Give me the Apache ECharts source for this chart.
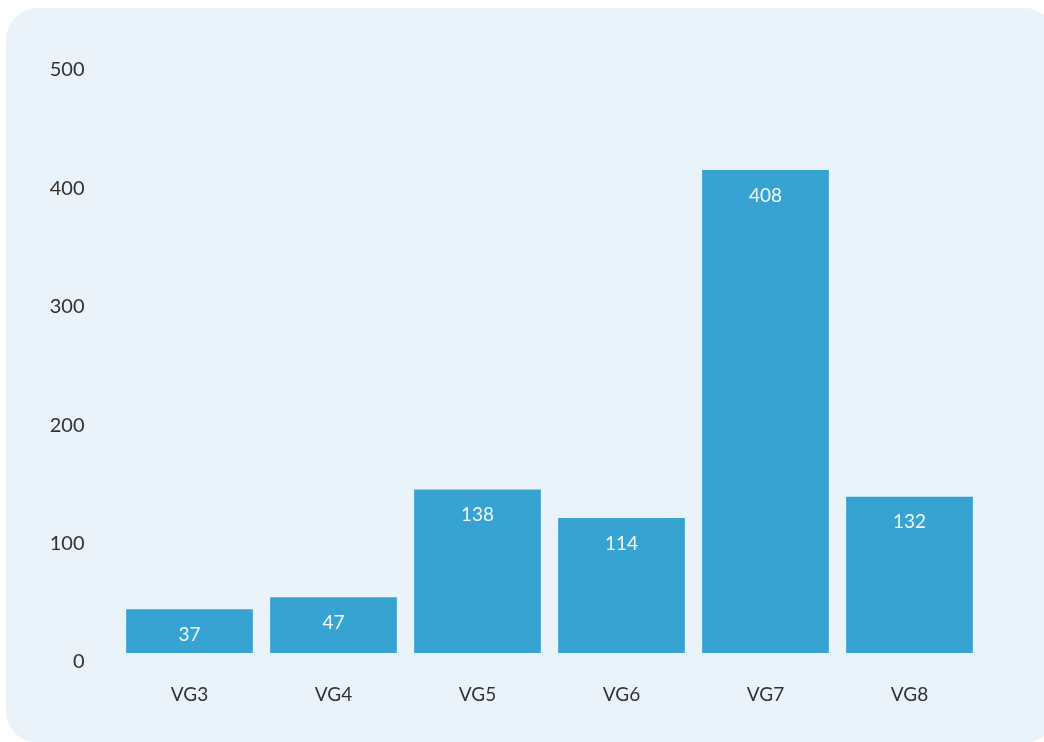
<!DOCTYPE html>
<html>
<head>
<meta charset="utf-8">
<script src="https://cdn.jsdelivr.net/npm/echarts@6/dist/echarts.min.js"></script>
<style>
  html, body { margin: 0; padding: 0; overflow: hidden; background: #fff; }
  .bg { position: absolute; left: 6px; top: 8px; width: 1050px; height: 735px; border-radius: 32px; background: #EAF2FA; }
  .chart { position: absolute; left: 0; top: 0; width: 1044px; height: 742px; }
</style>
</head>
<body>
<div class="bg"></div>
<div class="chart"></div>
<script>
// 数据
var categories = ['VG3', 'VG4', 'VG5', 'VG6', 'VG7', 'VG8'];
var values = [37, 47, 138, 114, 408, 132];

var myChart = echarts.init(document.querySelector('.chart'));

var option = {
  backgroundColor: 'transparent',
  textStyle: { fontFamily: 'Lato' },
  grid: { left: 117.5, right: 62.5, top: 61, bottom: 89 },
  xAxis: {
    type: 'category',
    data: categories,
    axisLine: { show: false },
    axisTick: { show: false },
    axisLabel: { margin: 32, fontSize: 19, color: '#333', fontFamily: 'Lato' }
  },
  yAxis: {
    type: 'value',
    min: 0,
    max: 500,
    interval: 100,
    splitLine: { show: false },
    axisLine: { show: false },
    axisTick: { show: false },
    axisLabel: { margin: 33, fontSize: 20, color: '#333', fontFamily: 'Lato', verticalAlign: 'top', lineHeight: 18 }
  },
  series: [{
    type: 'bar',
    data: values,
    barCategoryGap: '12%',
    itemStyle: { color: '#36A3D3' },
    label: {
      show: true,
      position: 'insideTop',
      distance: 16,
      fontSize: 19,
      color: '#F2F8FC',
      fontFamily: 'Lato'
    }
  }]
};

myChart.setOption(option);
</script>
</body>
</html>
